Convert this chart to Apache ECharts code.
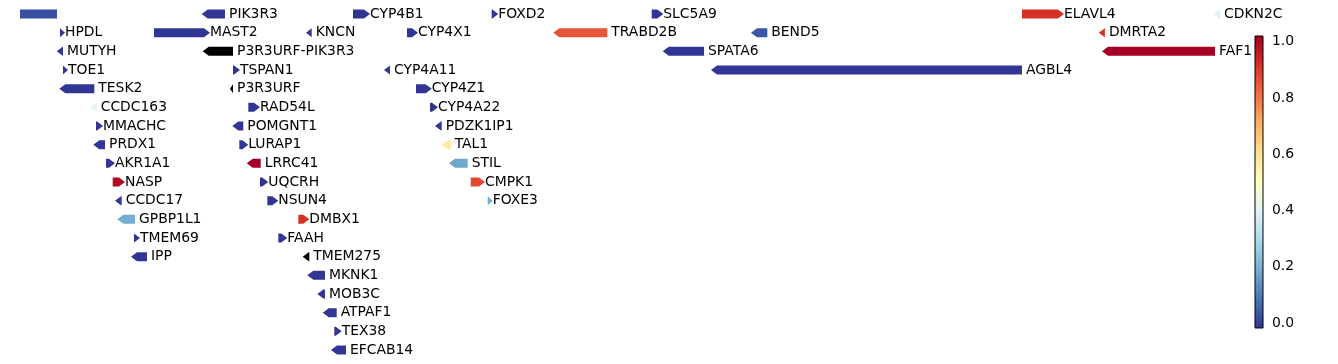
<!DOCTYPE html>
<html><head><meta charset="utf-8">
<script src="https://cdn.jsdelivr.net/npm/echarts@6/dist/echarts.min.js"></script>
<style>html,body{margin:0;padding:0;background:#fff}#c{width:1338px;height:364px}</style>
</head><body><div id="c"></div>
<script>
// gene names
const geneNames = ['', 'PIK3R3','CYP4B1','FOXD2','SLC5A9','ELAVL4','CDKN2C',
 'HPDL','MAST2','KNCN','CYP4X1','TRABD2B','BEND5','DMRTA2',
 'MUTYH','P3R3URF-PIK3R3','SPATA6','FAF1',
 'TOE1','TSPAN1','CYP4A11','AGBL4',
 'TESK2','P3R3URF','CYP4Z1',
 'CCDC163','RAD54L','CYP4A22',
 'MMACHC','POMGNT1','PDZK1IP1',
 'PRDX1','LURAP1','TAL1',
 'AKR1A1','LRRC41','STIL',
 'NASP','UQCRH','CMPK1',
 'CCDC17','NSUN4','FOXE3',
 'GPBP1L1','DMBX1',
 'TMEM69','FAAH',
 'IPP','TMEM275',
 'MKNK1','MOB3C','ATPAF1','TEX38','EFCAB14'];
// track positions (plot units)
const geneStart = [20, 201.7, 353, 491.7, 651.7, 1022, 1213.5,
 60, 154, 306, 407, 553.3, 751, 1098.8,
 56.7, 202.7, 662.7, 1102,
 63, 233, 384, 711,
 59.3, 230, 416,
 90, 248.3, 430,
 96, 232.3, 435,
 93.3, 239.3, 441.7,
 106, 246.7, 449,
 112.7, 260, 470.7,
 115, 267.3, 487.7,
 117.3, 298.3,
 134, 278.3,
 131, 302.7,
 307.3, 317.3, 322.7, 334.3, 331];
const geneEnd = [57, 225, 370, 498.3, 663.3, 1064, 1220,
 65, 210, 311.7, 418, 607.3, 767.3, 1104.9,
 63, 233, 704, 1215,
 68, 240, 390, 1022,
 94.3, 233, 431.7,
 96.7, 260, 438,
 103, 243.3, 441.7,
 105, 248.3, 450.7,
 115, 260.7, 467.7,
 125, 268.3, 485,
 121.7, 278.3, 492.7,
 135, 309.3,
 140, 287.3,
 147, 309.3,
 325, 325, 336.7, 341.7, 346];
const geneStrand = [0,-1,1,1,1,1,-1,
 1,1,-1,1,-1,-1,-1,
 -1,-1,-1,-1,
 1,1,-1,-1,
 -1,-1,1,
 -1,1,1,
 1,-1,-1,
 -1,1,-1,
 1,-1,-1,
 1,1,1,
 -1,1,1,
 -1,1,
 1,1,
 -1,-1,
 -1,-1,-1,1,-1];
const geneRow = [0,0,0,0,0,0,0,
 1,1,1,1,1,1,1,
 2,2,2,2,
 3,3,3,3,
 4,4,4,
 5,5,5,
 6,6,6,
 7,7,7,
 8,8,8,
 9,9,9,
 10,10,10,
 11,11,
 12,12,
 13,13,
 14,15,16,17,18];
// colour values (null = missing, drawn black)
const geneValue = [0.04,0,0,0,0,0.9,0.39,
 0,0,0,0,0.84,0.05,0.9,
 0,null,0,1.0,
 0,0,0,0,
 0,null,0,
 0.42,0,0,
 0,0,0,
 0,0,0.57,
 0,1.0,0.19,
 0.98,0,0.86,
 0,0,0.2,
 0.2,0.9,
 0,0,
 0,null,
 0,0,0,0,0];
const cbTicks = [0, 0.2, 0.4, 0.6, 0.8, 1.0];
const cbRange = [-0.03, 1.008];
const cmapStops = ['#313695','#4575b4','#74add1','#abd9e9','#e0f3f8','#ffffbf','#fee090','#fdae61','#f46d43','#d73027','#a50026'];

const FONT = 'DejaVu Sans';
const FS = 13.9;

const geneData = geneNames.map((n, i) => [geneStart[i], geneEnd[i], geneRow[i], geneStrand[i], geneValue[i] == null ? '-' : geneValue[i]]);

function renderGene(params, api) {
  const s = api.value(0), e = api.value(1), row = api.value(2), strand = api.value(3), v = api.value(4);
  const p0 = api.coord([s, row]), p1 = api.coord([e, row]);
  const hh = 4.5;
  const x0 = p0[0], x1 = p1[0], y = p0[1];
  const head = Math.min(6, x1 - x0);
  let pts;
  if (strand > 0) pts = [[x0, y - hh], [x1 - head, y - hh], [x1, y], [x1 - head, y + hh], [x0, y + hh]];
  else if (strand < 0) pts = [[x1, y - hh], [x0 + head, y - hh], [x0, y], [x0 + head, y + hh], [x1, y + hh]];
  else pts = [[x0, y - hh], [x1, y - hh], [x1, y + hh], [x0, y + hh]];
  const color = (v == null || isNaN(v)) ? '#000000' : api.visual('color');
  const name = geneNames[params.dataIndex];
  const children = [{ type: 'polygon', shape: { points: pts }, style: { fill: color } }];
  if (name) children.push({
    type: 'text', x: x1 + (strand > 0 ? 0 : 4), y: y,
    style: { text: name, fontFamily: FONT, fontSize: FS, fill: '#000', align: 'left', verticalAlign: 'middle' }
  });
  return { type: 'group', children };
}

function renderColorbar(params, api) {
  const a = api.coord([0, api.value(0)]), b = api.coord([1, api.value(1)]);
  const stops = cmapStops.map((c, i) => ({ offset: i / (cmapStops.length - 1), color: c }));
  return {
    type: 'rect',
    shape: { x: a[0], y: b[1], width: b[0] - a[0], height: a[1] - b[1] },
    style: { fill: { type: 'linear', x: 0, y: 1, x2: 0, y2: 0, colorStops: stops }, stroke: '#000', lineWidth: 1 }
  };
}

const chart = echarts.init(document.getElementById('c'), null, { renderer: 'canvas' });
chart.setOption({
  animation: false,
  backgroundColor: '#fff',
  grid: [
    { left: 0, right: 0, top: 14, bottom: 14 },
    { left: 1255, width: 8, top: 36, height: 292 }
  ],
  xAxis: [
    { type: 'value', gridIndex: 0, min: 0, max: 1338, show: false },
    { type: 'value', gridIndex: 1, min: 0, max: 1, show: false }
  ],
  yAxis: [
    { type: 'value', gridIndex: 0, min: 0, max: 18, inverse: true, show: false },
    {
      type: 'value', gridIndex: 1, min: cbRange[0], max: cbRange[1], position: 'right',
      axisLine: { show: false },
      splitLine: { show: false },
      axisTick: { show: true, customValues: cbTicks, length: 3.5, lineStyle: { color: '#000', width: 0.8 } },
      axisLabel: {
        show: true, customValues: cbTicks, margin: 9, color: '#000', fontFamily: FONT, fontSize: FS,
        verticalAlign: 'top', lineHeight: 7, formatter: v => Number(v).toFixed(1)
      }
    }
  ],
  visualMap: {
    show: false, type: 'continuous', seriesIndex: 0, dimension: 4, min: 0, max: 1,
    inRange: { color: cmapStops }, outOfRange: { color: '#000' }
  },
  series: [
    {
      type: 'custom', xAxisIndex: 0, yAxisIndex: 0, renderItem: renderGene,
      encode: { x: [0, 1], y: 2 }, data: geneData, clip: false
    },
    {
      type: 'custom', xAxisIndex: 1, yAxisIndex: 1, renderItem: renderColorbar,
      encode: { y: [0, 1] }, data: [[cbRange[0], cbRange[1]]], clip: false
    }
  ]
});
</script></body></html>
